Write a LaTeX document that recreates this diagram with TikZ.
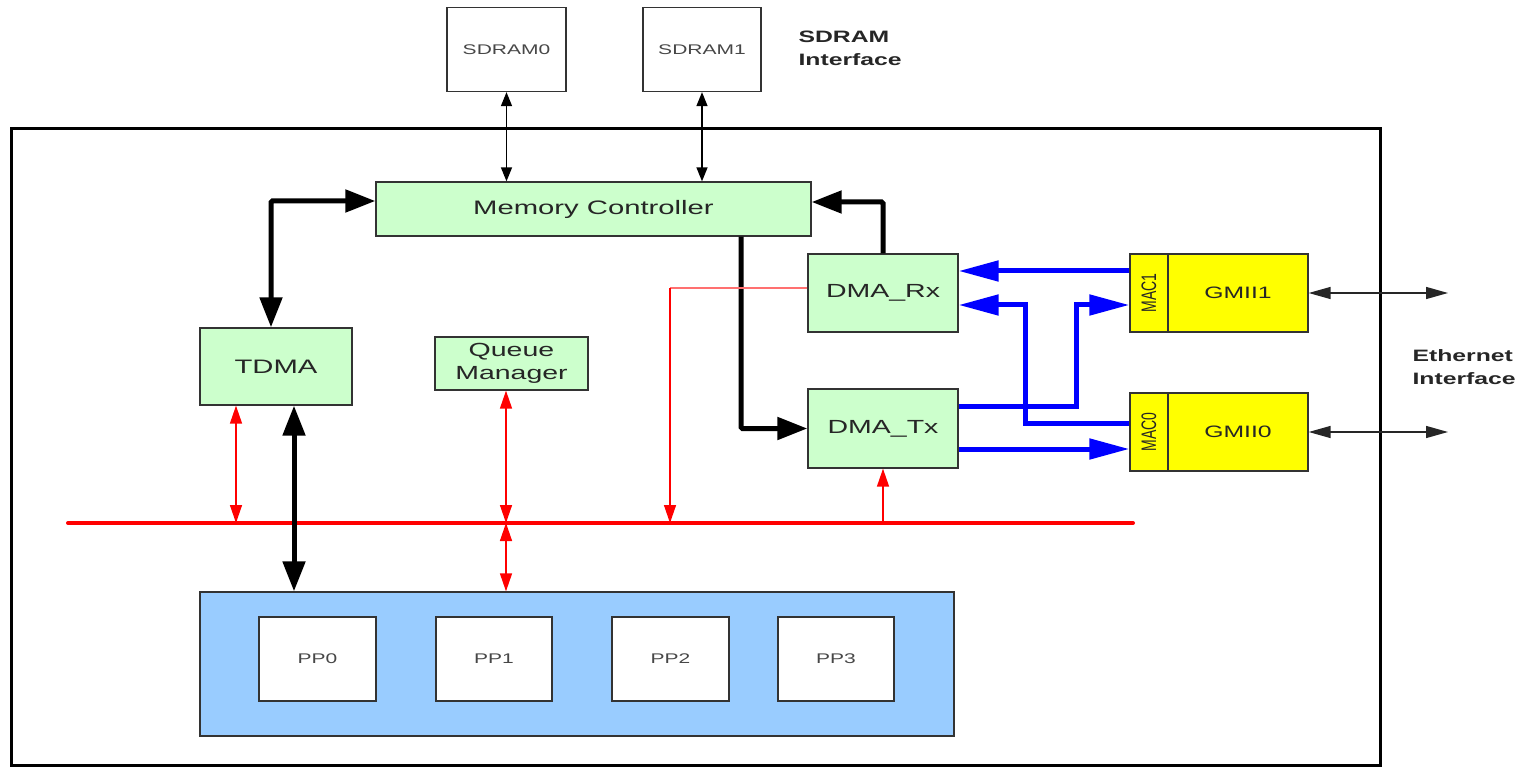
\documentclass[tikz,border=0pt]{standalone}
\usepackage{fontspec}
\setmainfont[FakeStretch=1.5]{Liberation Sans}
\newfontfamily\plainsans{Liberation Sans}
\usetikzlibrary{arrows.meta}
\definecolor{boxgreen}{HTML}{CCFFCC}
\definecolor{boxyellow}{HTML}{FFFF00}
\definecolor{boxblue}{HTML}{99CCFF}
\definecolor{edge}{HTML}{333333}
\definecolor{ink}{HTML}{262626}
\definecolor{busred}{HTML}{FF0000}
\definecolor{tapred}{HTML}{FF7070}
\definecolor{linkblue}{HTML}{0000FF}
\tikzset{
  unit/.style={draw=edge, line width=1.3pt, inner sep=0pt, text=ink, align=center},
  gbox/.style={unit, fill=boxgreen},
  wbox/.style={unit, fill=white},
  ybox/.style={unit, fill=boxyellow},
  bigtext/.style={font=\fontsize{19.5}{23}\selectfont},
  smalltext/.style={font=\fontsize{14}{16}\selectfont, text=ink!85},
  thinlink/.style={line width=1.4pt, draw=black,
    >={Triangle[length=14pt,width=11pt]}},
  ethlink/.style={line width=1.4pt, draw=black!85,
    >={Triangle[length=22pt,width=12pt]}},
  redlink/.style={line width=1.4pt, draw=busred,
    >={Triangle[length=18pt,width=12pt]}},
  heavylink/.style={line width=5pt, draw=black, rounded corners=1.5pt,
    >={Triangle[length=30pt,width=22pt]}},
  bluelink/.style={line width=5pt, draw=linkblue,
    >={Triangle[length=40pt,width=20pt]}},
  caption/.style={anchor=west, align=left, text=black!85,
    font=\bfseries\fontsize{16.5}{23}\selectfont},
}
\begin{document}
\begin{tikzpicture}[x=1pt,y=-1pt]
\useasboundingbox (0,0) rectangle (1526,767);

% chip outline
\draw[line width=3pt] (11,129) rectangle (1380,765);

% external memories
\node[wbox, smalltext, minimum width=119pt, minimum height=84pt] (sd0) at (506.5,49.5) {SDRAM0};
\node[wbox, smalltext, minimum width=118pt, minimum height=84pt] (sd1) at (702,49.5) {SDRAM1};
\node[caption] (sdlab) at (795,48) {SDRAM\\Interface};

% functional blocks
\node[gbox, bigtext, minimum width=435pt, minimum height=54pt] (mc) at (593.5,209) {Memory Controller};
\node[gbox, bigtext, minimum width=152pt, minimum height=77pt] (tdma) at (276,366.5) {TDMA};
\node[gbox, font=\fontsize{19}{23}\selectfont, minimum width=153pt, minimum height=53pt] (qm) at (511.5,363.5) {Queue\\Manager};
\node[gbox, font=\fontsize{19}{22}\selectfont, minimum width=150pt, minimum height=78pt] (rx) at (883,293) {DMA\_Rx};
\node[gbox, font=\fontsize{19}{22}\selectfont, minimum width=150pt, minimum height=79pt] (tx) at (883,428.5) {DMA\_Tx};

% MAC / GMII ports
\node[ybox, minimum width=38pt, minimum height=78pt] (mac1) at (1149,293)
  {\scalebox{1.5}[1]{\rotatebox{90}{\plainsans\fontsize{14}{14}\selectfont MAC1}}};
\node[ybox, font=\fontsize{16.5}{20}\selectfont, minimum width=140pt, minimum height=78pt] (gmii1) at (1238,293) {GMII1};
\node[ybox, minimum width=38pt, minimum height=78pt] (mac0) at (1149,432)
  {\scalebox{1.5}[1]{\rotatebox{90}{\plainsans\fontsize{14}{14}\selectfont MAC0}}};
\node[ybox, font=\fontsize{16.5}{20}\selectfont, minimum width=140pt, minimum height=78pt] (gmii0) at (1238,432) {GMII0};
\node[caption] (ethlab) at (1409,367) {Ethernet\\Interface};

% packet processor cluster
\node[unit, fill=boxblue, minimum width=754pt, minimum height=144pt] (pp) at (577,664) {};
\node[wbox, smalltext, minimum width=117pt, minimum height=84pt] (pp0) at (317.5,659) {PP0};
\node[wbox, smalltext, minimum width=116pt, minimum height=84pt] (pp1) at (494,659) {PP1};
\node[wbox, smalltext, minimum width=117pt, minimum height=84pt] (pp2) at (670.5,659) {PP2};
\node[wbox, smalltext, minimum width=116pt, minimum height=84pt] (pp3) at (836,659) {PP3};

% control bus
\coordinate (busL) at (68,523);
\coordinate (busR) at (1133,523);
\coordinate (tap) at (670,523);
\draw[busred, line width=4pt, line cap=round] (busL) -- (busR);

% SDRAM links
\draw[thinlink, <->] (sd0.south) -- (sd0.south |- mc.north);
\draw[thinlink, <->] (sd1.south) -- (sd1.south |- mc.north);

% ethernet links
\coordinate (eth1) at (1448,293);
\coordinate (eth0) at (1448,432);
\draw[ethlink, <->] (gmii1.east) -- (eth1);
\draw[ethlink, <->] (gmii0.east) -- (eth0);

% wide data paths
\draw[heavylink, <->] ([xshift=-5pt]tdma.north) |- ([yshift=8pt]mc.west);
\draw[heavylink, ->] (rx.north) |- ([yshift=7pt]mc.east);
\draw[heavylink, ->] ([xshift=147.5pt]mc.south) |- (tx.west);
\draw[heavylink, <->] ([xshift=18pt]tdma.south) -- ([xshift=18pt]tdma.south |- pp.north);

% control links to the bus
\draw[redlink, <->] ([xshift=-40pt]tdma.south) -- ([xshift=-40pt]tdma.south |- busL);
\draw[redlink, <->] ([xshift=-5.5pt]qm.south) -- ([xshift=-5.5pt]qm.south |- busL);
\draw[redlink, <->] ([xshift=-5.5pt]qm.south |- busL) -- ([xshift=-5.5pt]qm.south |- pp.north);
\draw[tapred, line width=1.4pt] ([yshift=5pt]rx.west) -- ([yshift=5pt]rx.west -| tap);
\draw[redlink, ->] ([yshift=5pt]rx.west -| tap) -- (tap);
\draw[redlink, ->] (tx.south |- busL) -- (tx.south);

% MAC data paths
\draw[bluelink, ->] ([yshift=22pt]mac1.west) -- ([yshift=22pt]rx.east);
\draw[bluelink, ->] ([yshift=9pt]mac0.west) -| ([xshift=67pt,yshift=-12pt]rx.east) -- ([yshift=-12pt]rx.east);
\draw[bluelink, ->] ([yshift=22.5pt]tx.east) -| ([xshift=-53pt,yshift=-12pt]mac1.west) -- ([yshift=-12pt]mac1.west);
\draw[bluelink, ->] ([yshift=-20.5pt]tx.east) -- ([yshift=-20.5pt]tx.east -| mac0.west);
\end{tikzpicture}
\end{document}
